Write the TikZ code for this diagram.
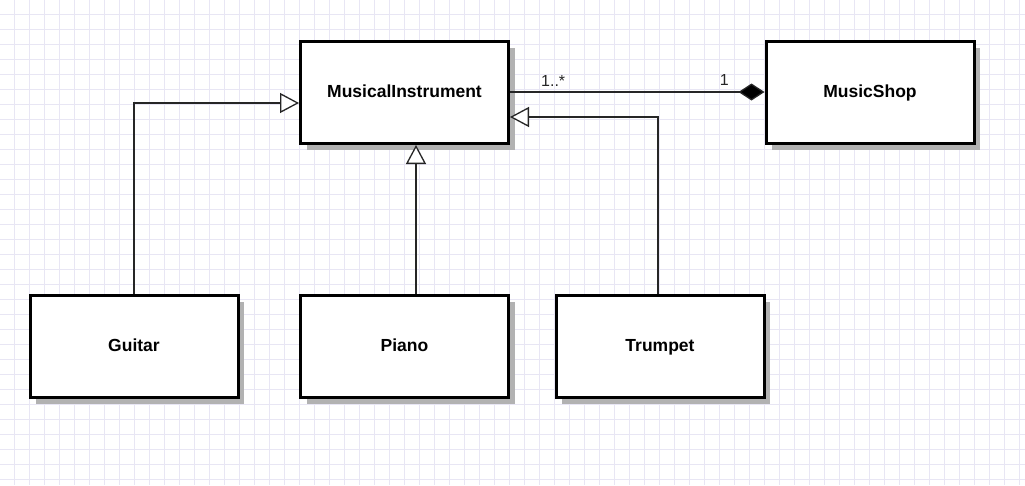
\documentclass[tikz,border=0pt]{standalone}
\usepackage{fontspec}
\setmainfont{Liberation Sans}
\usetikzlibrary{arrows.meta,shadows}
\begin{document}
\begin{tikzpicture}[x=1pt,y=-1pt,
  cls/.style={draw=black,line width=3pt,fill=white,minimum width=208pt,minimum height=102pt,inner sep=0pt,font=\bfseries\fontsize{17.5}{20}\selectfont,
    text height=0.95em,text depth=0pt,
    drop shadow={shadow xshift=6pt,shadow yshift=-6pt,fill=black!30,opacity=1}},
  gen/.style={draw=black!85,line width=1.3pt,-{Triangle[open,length=19pt,width=20pt,line width=1.3pt,fill=white]}},
  comp/.style={draw=black!85,line width=1.3pt,-{Diamond[length=26pt,width=17pt,fill=black]}},
  lbl/.style={font=\fontsize{16}{18}\selectfont,inner sep=0pt,text=black!85}]
\useasboundingbox (0,0) rectangle (1025,485);
\fill[white] (0,0) rectangle (1025,485);
\foreach \i in {0,...,68} { \draw[color={rgb,255:red,232;green,230;blue,244},line width=1pt] (14.5+15*\i,0) -- (14.5+15*\i,485); }
\foreach \j in {0,...,32} { \draw[color={rgb,255:red,232;green,230;blue,244},line width=1pt] (0,14.5+15*\j) -- (1025,14.5+15*\j); }
\node[cls] (mi) at (404.5,92.5) {MusicalInstrument};
\node[cls] (ms) at (870,92.5) {MusicShop};
\node[cls] (gu) at (134,346.5) {Guitar};
\node[cls] (pi) at (404.5,346.5) {Piano};
\node[cls] (tr) at (660,346.5) {Trumpet};
\coordinate (g1) at (134,103);
\coordinate (t1) at (658,117);
\draw[gen] (gu.north -| g1) -- (g1) -- (g1 -| mi.west);
\draw[gen] (pi.north -| 416,0) -- (mi.south -| 416,0);
\draw[gen] (tr.north -| t1) -- (t1) -- (t1 -| mi.east);
\draw[comp] (mi.east |- 0,92) -- (ms.west |- 0,92);
\node[lbl,anchor=base west] (m1) at (541,86) {1..*};
\node[lbl,anchor=base east] (m2) at (729,85) {1};
\end{tikzpicture}
\end{document}
